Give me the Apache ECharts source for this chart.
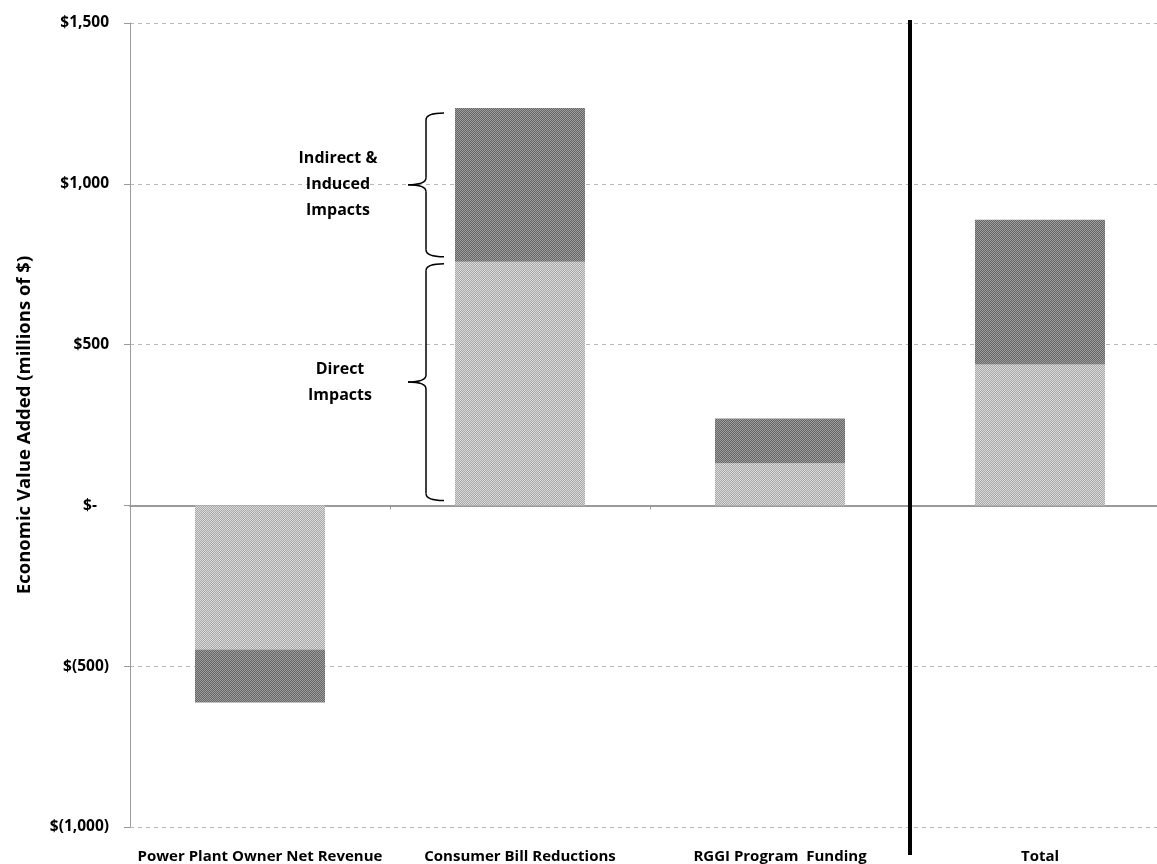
<!DOCTYPE html>
<html>
<head>
<meta charset="utf-8">
<script src="https://cdn.jsdelivr.net/npm/echarts@6/dist/echarts.min.js"></script>
<style>
html,body{margin:0;padding:0;background:#fff;overflow:hidden;width:1157px;height:864px;}
#chart{width:1170px;height:864px;}
</style>
</head>
<body>
<div id="chart"></div>
<script>
// ---- data ----
const categories = ['Power Plant Owner Net Revenue', 'Consumer Bill Reductions', 'RGGI Program  Funding', 'Total'];
const directImpacts = [-448, 758, 131, 438];
const indirectImpacts = [-165, 478, 139, 450];
const yMin = -1000, yMax = 1500, yInterval = 500;
const yAxisTitle = 'Economic Value Added (millions of $)';
const braceLabels = { indirect: 'Indirect &\nInduced\nImpacts', direct: 'Direct\nImpacts' };
const braceCategoryIndex = 1;

const FONT = 'Open Sans';

function makePattern(c1, c2) {
  const cv = document.createElement('canvas');
  cv.width = 4; cv.height = 4;
  const ctx = cv.getContext('2d');
  for (let y = 0; y < 4; y++) {
    for (let x = 0; x < 4; x++) {
      ctx.fillStyle = ((x + y) % 2 === 0) ? c1 : c2;
      ctx.fillRect(x, y, 1, 1);
    }
  }
  return { image: cv, repeat: 'repeat' };
}

function fmtNum(v) {
  return v.toString().replace(/\B(?=(\d{3})+(?!\d))/g, ',');
}
function fmtY(v) {
  if (v === 0) return '$-   ';
  if (v < 0) return '$(' + fmtNum(-v) + ')';
  return '$' + fmtNum(v);
}

const chart = echarts.init(document.getElementById('chart'), null, { renderer: 'canvas' });

const option = {
  backgroundColor: '#ffffff',
  animation: false,
  grid: { left: 130, right: 0, top: 23, bottom: 37, containLabel: false, outerBoundsMode: 'none' },
  xAxis: [
    {
      type: 'category',
      data: categories,
      position: 'bottom',
      axisLine: { show: false, onZero: false },
      axisTick: { show: false },
      axisLabel: { color: '#000', fontFamily: FONT, fontWeight: 'bold', fontSize: 15, margin: 22, interval: 0 },
      splitLine: { show: false }
    },
    {
      type: 'category',
      data: categories,
      position: 'bottom',
      axisLine: { show: true, onZero: true, lineStyle: { color: '#9a9a9a', width: 2 } },
      axisTick: { show: true, length: 4, lineStyle: { color: '#9a9a9a', width: 1 } },
      axisLabel: { show: false },
      splitLine: { show: false }
    }
  ],
  yAxis: {
    type: 'value',
    min: yMin, max: yMax, interval: yInterval,
    name: yAxisTitle,
    nameLocation: 'middle',
    nameGap: 96,
    nameTextStyle: { color: '#000', fontFamily: FONT, fontWeight: 'bold', fontSize: 18.5 },
    axisLine: { show: true, lineStyle: { color: '#9a9a9a', width: 1 } },
    axisTick: { show: true, length: 6, lineStyle: { color: '#9a9a9a' } },
    axisLabel: { color: '#000', fontFamily: FONT, fontWeight: 'bold', fontSize: 15.5, margin: 21, formatter: fmtY },
    splitLine: { show: true, lineStyle: { color: '#b8b8b8', type: [4, 4], width: 1 } }
  },
  series: [
    {
      name: 'Direct Impacts',
      type: 'bar',
      stack: 'total',
      xAxisIndex: 0,
      barCategoryGap: '50%',
      data: directImpacts,
      itemStyle: { color: makePattern('#dadada', '#a9a9a9') }
    },
    {
      name: 'Indirect & Induced Impacts',
      type: 'bar',
      stack: 'total',
      xAxisIndex: 0,
      barCategoryGap: '50%',
      data: indirectImpacts,
      itemStyle: { color: makePattern('#9c9c9c', '#676767') }
    }
  ]
};
chart.setOption(option);

function toPx(ci, v) { return chart.convertToPixel({ xAxisIndex: 0, yAxisIndex: 0 }, [ci, v]); }

const braceStroke = { stroke: '#000', lineWidth: 1.5, fill: null };
function braceElements(xEnd, xV, xTip, yT, yB) {
  const ym = (yT + yB) / 2;
  const r = 7;
  const els = [];
  els.push({ type: 'bezierCurve', shape: { x1: xEnd, y1: yT, cpx1: xV, cpy1: yT, x2: xV, y2: yT + r }, style: braceStroke, z: 100 });
  els.push({ type: 'line', shape: { x1: xV, y1: yT + r, x2: xV, y2: ym - r }, style: braceStroke, z: 100 });
  els.push({ type: 'bezierCurve', shape: { x1: xV, y1: ym - r, cpx1: xV, cpy1: ym, x2: xTip, y2: ym }, style: braceStroke, z: 100 });
  els.push({ type: 'bezierCurve', shape: { x1: xTip, y1: ym, cpx1: xV, cpy1: ym, x2: xV, y2: ym + r }, style: braceStroke, z: 100 });
  els.push({ type: 'line', shape: { x1: xV, y1: ym + r, x2: xV, y2: yB - r }, style: braceStroke, z: 100 });
  els.push({ type: 'bezierCurve', shape: { x1: xV, y1: yB - r, cpx1: xV, cpy1: yB, x2: xEnd, y2: yB }, style: braceStroke, z: 100 });
  return els;
}

function drawAnnotations() {
  const ci = braceCategoryIndex;
  const c0 = toPx(0, 0), c1 = toPx(1, 0);
  const band = c1[0] - c0[0];
  const center = toPx(ci, 0)[0];
  const barLeft = center - band * 0.25;
  const xEnd = barLeft - 11, xV = barLeft - 29, xTip = barLeft - 47;
  const d = directImpacts[ci], t = d + indirectImpacts[ci];
  const yTop1 = toPx(ci, t)[1] + 5, yBot1 = toPx(ci, d)[1] - 5;
  const yTop2 = toPx(ci, d)[1] + 2, yBot2 = toPx(ci, 0)[1] - 5;
  const xSep = (toPx(2, 0)[0] + toPx(3, 0)[0]) / 2;
  const yTopGrid = toPx(0, yMax)[1], yBotGrid = toPx(0, yMin)[1];
  const textStyle = { fill: '#000', font: 'bold 16px "' + FONT + '"', textAlign: 'center', textVerticalAlign: 'middle', lineHeight: 26 };
  let els = [];
  els = els.concat(braceElements(xEnd, xV, xTip, yTop1, yBot1));
  els = els.concat(braceElements(xEnd, xV, xTip, yTop2, yBot2));
  els.push({ type: 'text', x: xTip - 70, y: (yTop1 + yBot1) / 2, style: Object.assign({ text: braceLabels.indirect }, textStyle), z: 100 });
  els.push({ type: 'text', x: xTip - 68, y: (yTop2 + yBot2) / 2, style: Object.assign({ text: braceLabels.direct }, textStyle), z: 100 });
  els.push({ type: 'line', shape: { x1: xSep, y1: yTopGrid - 3, x2: xSep, y2: yBotGrid + 28 }, style: { stroke: '#000', lineWidth: 4 }, z: 100 });
  chart.setOption({ graphic: els });
}
drawAnnotations();
</script>
</body>
</html>
